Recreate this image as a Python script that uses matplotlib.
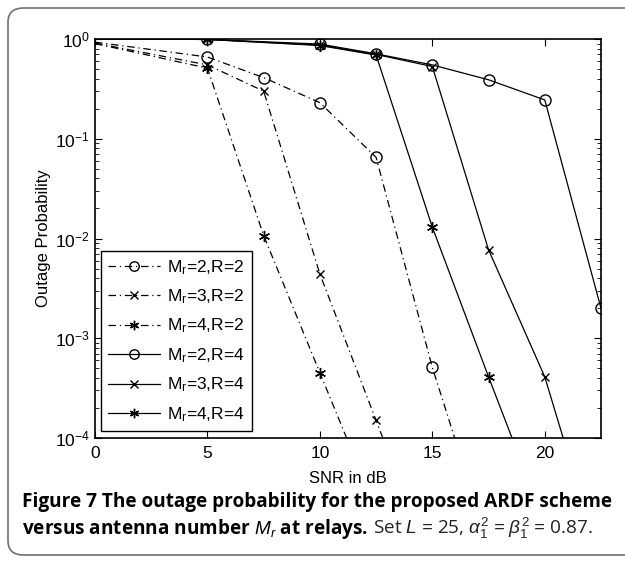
import numpy as np
import matplotlib
matplotlib.use('Agg')
import matplotlib.pyplot as plt
from matplotlib.patches import FancyBboxPatch

plt.rcParams['font.family'] = ['Liberation Sans', 'DejaVu Sans']
plt.rcParams['mathtext.fontset'] = 'custom'
plt.rcParams['mathtext.rm'] = 'Liberation Sans'
plt.rcParams['mathtext.it'] = 'Liberation Sans:italic'

# data (SNR in dB, outage probability)
snr_r2 = [0, 5, 7.5, 10, 12.5, 15, 17.5]
m2_r2 = [0.93, 0.66, 0.41, 0.23, 0.065, 5.1e-4, 8.5e-6]
m3_r2 = [0.91, 0.55, 0.30, 4.4e-3, 1.5e-4, 5e-6, 1e-7]
m4_r2 = [0.90, 0.51, 0.0107, 4.5e-4, 1.9e-5, 1e-6, 1e-7]

snr_r4 = [0, 5, 10, 12.5, 15, 17.5, 20, 22.5]
m2_r4 = [1.0, 0.99, 0.89, 0.71, 0.55, 0.39, 0.245, 2.0e-3]
m3_r4 = [1.0, 0.99, 0.87, 0.70, 0.53, 7.7e-3, 4.1e-4, 5.5e-6]
m4_r4 = [1.0, 0.99, 0.86, 0.69, 0.013, 4.1e-4, 1.4e-5, 1e-6]

labels = ['M$_{\\rm r}$=2,R=2', 'M$_{\\rm r}$=3,R=2', 'M$_{\\rm r}$=4,R=2',
          'M$_{\\rm r}$=2,R=4', 'M$_{\\rm r}$=3,R=4', 'M$_{\\rm r}$=4,R=4']

fig = plt.figure(figsize=(6.25, 5.63), dpi=100)

# rounded frame around figure + caption
frame = FancyBboxPatch((8 / 625, 8 / 563), 640 / 625, 547 / 563,
                       boxstyle='round,pad=0,rounding_size=0.025',
                       transform=fig.transFigure, fill=False,
                       edgecolor='#707070', linewidth=1.2, clip_on=False)
fig.patches.append(frame)

ax = fig.add_axes([95 / 625, 1 - 438 / 563, 506 / 625, 399 / 563])

dd = (0, (6, 3, 1, 3))
star = (6, 2, 0)  # matlab-style asterisk
ms_kw = dict(color='black', linewidth=0.9, markerfacecolor='none',
             markeredgecolor='black', markevery=slice(1, None))
ax.plot(snr_r2, m2_r2, linestyle=dd, marker='o', markersize=8, label=labels[0], **ms_kw)
ax.plot(snr_r2, m3_r2, linestyle=dd, marker='x', markersize=6, label=labels[1], **ms_kw)
ax.plot(snr_r2, m4_r2, linestyle=dd, marker=star, markersize=8, label=labels[2], **ms_kw)
ax.plot(snr_r4, m2_r4, linestyle='-', marker='o', markersize=8, label=labels[3], **ms_kw)
ax.plot(snr_r4, m3_r4, linestyle='-', marker='x', markersize=6, label=labels[4], **ms_kw)
ax.plot(snr_r4, m4_r4, linestyle='-', marker=star, markersize=8, label=labels[5], **ms_kw)

ax.set_yscale('log')
ax.set_xlim(0, 22.5)
ax.set_ylim(1e-4, 1)
ax.set_xticks([0, 5, 10, 15, 20])
ax.set_yticks([1e-4, 1e-3, 1e-2, 1e-1, 1])
ax.tick_params(which='both', direction='in', top=True, right=True, labelsize=12.5)
ax.tick_params(axis='x', pad=6)
ax.tick_params(which='major', length=5)
ax.tick_params(which='minor', length=3)
for s in ax.spines.values():
    s.set_linewidth(1.2)
ax.set_xlabel('SNR in dB', fontsize=12, labelpad=7)
ax.set_ylabel('Outage Probability', fontsize=12, labelpad=3)

leg = ax.legend(loc='lower left', bbox_to_anchor=(0.012, 0.018), fontsize=12.5,
                fancybox=False, edgecolor='black', framealpha=1,
                handlelength=3.0, handletextpad=0.4, labelspacing=0.62,
                borderpad=0.4, borderaxespad=0, markerscale=0.85)
leg.get_frame().set_linewidth(1.0)

# caption
cap_font = ['Open Sans', 'DejaVu Sans']
fig.text(22 / 625, 1 - 507 / 563, 'Figure 7 The outage probability for the proposed ARDF scheme',
         fontsize=13.7, fontweight='bold', family=cap_font, va='baseline')
t1 = fig.text(22 / 625, 1 - 534 / 563, 'versus antenna number $\\mathbf{\\mathit{M_r}}$ at relays.',
              fontsize=13.7, fontweight='bold', family=cap_font, va='baseline')
fig.canvas.draw()
bb = t1.get_window_extent(fig.canvas.get_renderer())
fig.text(bb.x1 / 625 + 5 / 625, 1 - 534 / 563,
         'Set $L$ = 25, $\\alpha_1^2$ = $\\beta_1^2$ = 0.87.',
         fontsize=13.7, family=cap_font, va='baseline', color='#222222')

fig.savefig('out.png', dpi=100)
